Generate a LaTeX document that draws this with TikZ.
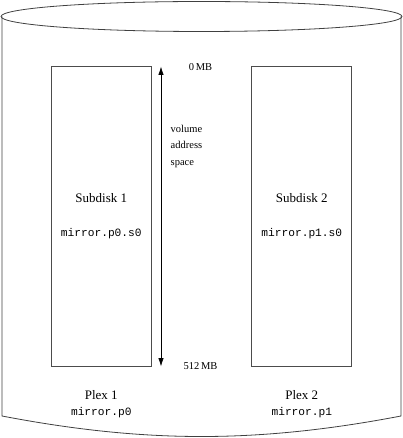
\documentclass[tikz,border=0pt]{standalone}
\usepackage{fontspec}
\setmainfont{Liberation Serif}
\setmonofont{Liberation Mono}
\usetikzlibrary{arrows.meta,positioning}
\tikzset{
	disk/.style={draw=black!75,line width=0.8pt},
	subdisk/.style={draw=black!70,line width=0.8pt,minimum width=100pt,minimum height=300pt,inner sep=0pt},
	big/.style={inner sep=0pt,font=\fontsize{13}{15}\selectfont},
	small/.style={inner sep=0pt,font=\fontsize{10.5}{16.5}\selectfont},
	code/.style={inner sep=0pt,font=\fontsize{11.2}{13}\selectfont\ttfamily}
}

\begin{document}
\begin{tikzpicture}[x=1pt,y=-1pt]
\useasboundingbox (0,0) rectangle (403,438);
% the volume
\draw[disk] (201.5,16.5) ellipse (200.5 and 15);
\draw[disk] (2,16.5) -- (2,416) .. controls (70,429) and (135,436.5) .. (201.5,436.5)
	.. controls (268,436.5) and (333,429) .. (401,416) -- (401,16.5);
% the two plexes
\foreach \p/\n/\x in {0/1/0,1/2/200.5} {
\begin{scope}[xshift=\x]
	\node[subdisk] (sd\p) at (101.3,216.6) {};
	\node[big] (sdname\p) at (101.3,198) {Subdisk \n};
	\node[code] (sdcode\p) at (101.3,234) {mirror.p\p.s0};
	\node[big] (plex\p) at (101.3,395) {Plex \n};
	\node[code] (plexcode\p) at (101.3,413) {mirror.p\p};
\end{scope}
}
% address space
\coordinate (start) at (161,66.5);
\coordinate (end) at (161,366.5);
\draw[line width=0.8pt,{Latex[length=8.5pt,width=5.5pt]}-{Latex[length=8.5pt,width=5.5pt]}] (start) -- (end);
\node[small] (zero) at (200.5,67) {0\,MB};
\node[small] (full) at (200.5,366) {512\,MB};
\node[small,align=left,anchor=west] (vas) at (170.5,146) {volume\\address\\space};
\end{tikzpicture}
\end{document}
